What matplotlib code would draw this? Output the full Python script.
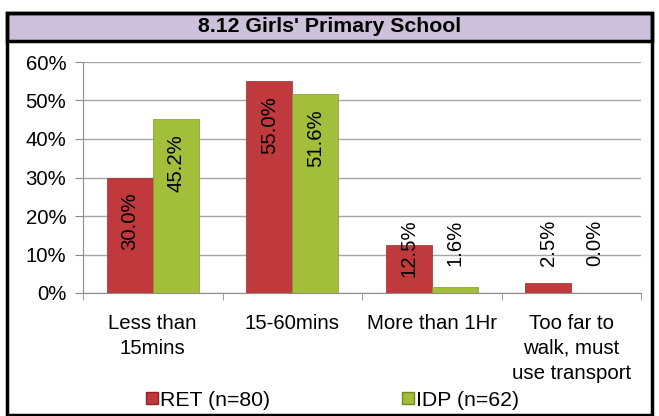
import matplotlib.pyplot as plt
import matplotlib.patches as patches
import numpy as np

plt.rcParams['font.family'] = ['Liberation Sans', 'DejaVu Sans']

# data
categories = ["Less than\n15mins", "15-60mins", "More than 1Hr",
              "Too far to\nwalk, must\nuse transport"]
ret = [30.0, 55.0, 12.5, 2.5]
idp = [45.2, 51.6, 1.6, 0.0]
series_names = ["RET (n=80)", "IDP (n=62)"]
title = "8.12 Girls' Primary School"

col_ret = '#C0393C'
col_idp = '#A3BE3A'
fs = 14.7

W, H = 659, 416
fig = plt.figure(figsize=(W / 100, H / 100), dpi=100)

# outer frame and title band
fig.patches.append(patches.Rectangle((7 / W, 1 - 41 / H), 645 / W, 28 / H,
                                     transform=fig.transFigure, facecolor='#CCC0DA',
                                     edgecolor='black', linewidth=2.5, zorder=0))
fig.patches.append(patches.Rectangle((7 / W, 1 / H), 645 / W, 1 - 14 / H,
                                     transform=fig.transFigure, facecolor='none',
                                     edgecolor='black', linewidth=2.5, zorder=5))
fig.text(0.5, 1 - 27 / H, title, ha='center', va='center', fontsize=15.3, fontweight='bold')

ax = fig.add_axes([83 / W, 1 - 293 / H, (641 - 83) / W, (293 - 62) / H])

x = np.arange(len(categories))
bw = 0.33
ax.bar(x - bw / 2, ret, bw, color=col_ret, edgecolor='#9E2A2C', linewidth=0.5,
       label=series_names[0], zorder=3)
ax.bar(x + bw / 2, idp, bw, color=col_idp, edgecolor='#7F9A26', linewidth=0.5,
       label=series_names[1], zorder=3)

# value labels, rotated, inside the top of the bar (or lifted for short bars)
for xs, vals in [(x - bw / 2, ret), (x + bw / 2, idp)]:
    for xi, v in zip(xs, vals):
        top = max(v - 3.9, 19.0)
        ax.text(xi, top, f"{v:.1f}%", rotation=90, ha='center', va='top',
                fontsize=fs, zorder=4)

ax.set_ylim(0, 60)
ax.set_xlim(-0.5, len(categories) - 0.5)
ax.set_yticks(range(0, 61, 10))
ax.set_yticklabels([f"{t}%" for t in range(0, 61, 10)], fontsize=fs)
ax.grid(axis='y', color='#A6A6A6', linewidth=1, zorder=0)

ax.set_xticks(x)
ax.set_xticklabels(categories, fontsize=fs, linespacing=1.4)
ax.tick_params(axis='x', which='major', length=0, pad=15)
ax.set_xticks(np.arange(-0.5, len(categories)), minor=True)
ax.tick_params(axis='x', which='minor', length=5, color='#8C8C8C')
ax.tick_params(axis='y', length=6, color='#8C8C8C', pad=6)

for s in ['top', 'right']:
    ax.spines[s].set_visible(False)
for s in ['left', 'bottom']:
    ax.spines[s].set_color('#8C8C8C')

handles = [patches.Patch(facecolor=col_ret, edgecolor='#8E2426'),
           patches.Patch(facecolor=col_idp, edgecolor='#6F8A1E')]
fig.legend(handles, series_names, loc='center', bbox_to_anchor=(0.505, 1 - 400 / H),
           ncol=2, frameon=False, fontsize=15.3, handlelength=0.55, handleheight=0.55,
           handletextpad=0.12, columnspacing=6.2)

plt.savefig("out.png", dpi=100)
